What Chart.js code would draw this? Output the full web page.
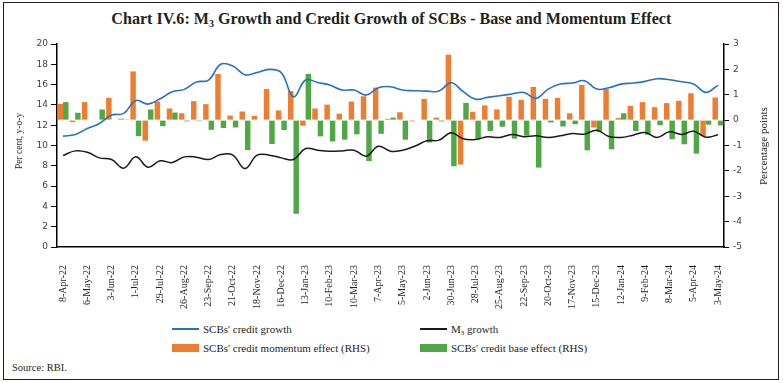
<!DOCTYPE html>
<html>
<head>
<meta charset="utf-8">
<script src="https://cdn.jsdelivr.net/npm/chart.js@4.4.1/dist/chart.umd.min.js"></script>
<style>
html,body{margin:0;padding:0;background:#fff;}
#wrap{position:relative;width:783px;height:383px;overflow:hidden;font-family:"Liberation Serif",serif;color:#231f20;}
#frame{position:absolute;left:3px;top:2px;width:776px;height:378px;border:1px solid #231f20;box-sizing:border-box;}
#title{position:absolute;left:0;top:9px;width:783px;text-align:center;font-size:16px;font-weight:bold;white-space:nowrap;line-height:20px;}
#title span.t{display:inline-block;transform-origin:50% 50%;}
#title sub{font-size:10px;vertical-align:-3px;line-height:0;}
canvas{position:absolute;left:0;top:0;}
.yt{position:absolute;white-space:nowrap;transform:translate(-50%,-50%) rotate(-90deg);line-height:14px;}
.lg{position:absolute;white-space:nowrap;font-size:11px;line-height:14px;}
.lg .sw{position:absolute;left:0;}
.lg .tx{position:absolute;left:31px;top:-7px;}
.lg sub{font-size:7px;vertical-align:-2px;line-height:0;}
#source{position:absolute;left:12px;top:361px;font-size:10.5px;line-height:14px;white-space:nowrap;}
</style>
</head>
<body>
<div id="wrap">
  <div id="frame"></div>
  <div id="title"><span class="t">Chart IV.6: M<sub>3</sub> Growth and Credit Growth of SCBs - Base and Momentum Effect</span></div>
  <canvas id="c" width="783" height="315"></canvas>
  <div class="yt" style="left:19px;top:141px;font-size:9.5px;">Per cent, y-o-y</div>
  <div class="yt" style="left:763px;top:146px;font-size:11px;">Percentage points</div>
  <div id="legend"></div>
  <div id="source">Source: RBI.</div>
</div>
<script>
// Fortnightly reporting dates
const labels = [
  "8-Apr-22","22-Apr-22","6-May-22","20-May-22","3-Jun-22","17-Jun-22","1-Jul-22","15-Jul-22","29-Jul-22","12-Aug-22",
  "26-Aug-22","9-Sep-22","23-Sep-22","7-Oct-22","21-Oct-22","4-Nov-22","18-Nov-22","2-Dec-22","16-Dec-22","30-Dec-22",
  "13-Jan-23","27-Jan-23","10-Feb-23","24-Feb-23","10-Mar-23","24-Mar-23","7-Apr-23","21-Apr-23","5-May-23","19-May-23",
  "2-Jun-23","16-Jun-23","30-Jun-23","14-Jul-23","28-Jul-23","11-Aug-23","25-Aug-23","8-Sep-23","22-Sep-23","6-Oct-23",
  "20-Oct-23","3-Nov-23","17-Nov-23","1-Dec-23","15-Dec-23","29-Dec-23","12-Jan-24","26-Jan-24","9-Feb-24","23-Feb-24",
  "8-Mar-24","22-Mar-24","5-Apr-24","19-Apr-24","3-May-24"
];

// SCBs' credit growth (per cent, y-o-y, LHS)
const creditGrowth = [
  10.92, 11.09, 11.68, 12.17, 13.0, 13.16, 14.44, 14.08, 14.6, 15.3, 15.53, 16.25, 16.45, 18.0,
  17.83, 16.97, 17.2, 17.5, 17.17, 14.8, 16.45, 16.2, 15.95, 15.46, 15.46, 14.97, 15.69, 15.79,
  15.46, 15.4, 15.36, 15.36, 16.18, 15.3, 14.57, 14.74, 14.9, 15.07, 15.23, 14.64, 15.56, 16.05,
  16.15, 16.38, 15.56, 15.69, 16.05, 16.15, 16.32, 16.58, 16.48, 16.28, 16.05, 15.23, 15.92
];

// M3 growth (per cent, y-o-y, LHS)
const m3Growth = [
  9.01, 9.47, 9.34, 8.78, 8.62, 7.76, 8.88, 7.86, 8.49, 8.32, 8.88, 8.85, 8.62, 9.11,
  9.05, 7.73, 9.05, 9.05, 8.78, 8.62, 9.70, 9.54, 9.44, 9.47, 9.54, 8.95, 9.93, 9.44,
  9.54, 9.93, 10.46, 10.53, 11.25, 10.66, 10.59, 10.86, 10.79, 11.09, 10.86, 10.95, 10.79, 10.95,
  11.18, 11.12, 11.51, 10.89, 10.79, 11.02, 11.28, 10.79, 11.35, 11.09, 11.41, 10.82, 11.05
];

// SCBs' credit momentum effect (percentage points, RHS)
const momentumEffect = [
  0.64, -0.08, 0.71, 0.02, 0.88, 0.06, 1.92, -0.81, 0.73, 0.46, 0.27, 0.75, 0.63, 1.82,
  0.18, 0.34, 0.17, 1.23, 0.38, 1.15, -0.22, 0.46, 0.61, 0.25, 0.73, 0.94, 1.28, 0.05,
  0.31, -0.05, 0.84, 0.10, 2.58, -1.75, 0.33, 0.58, 0.42, 0.92, 0.80, 1.31, 0.84, 0.88,
  0.27, 1.39, -0.29, 1.23, 0.08, 0.56, 0.71, 0.51, 0.67, 0.76, 1.06, -0.63, 0.89
];

// SCBs' credit base effect (percentage points, RHS)
const baseEffect = [
  0.71, 0.29, 0.02, 0.42, 0.02, 0.03, -0.63, 0.42, -0.24, 0.30, -0.05, -0.04, -0.38, -0.31,
  -0.29, -1.18, 0.0, -0.94, -0.39, -3.69, 1.82, -0.64, -0.84, -0.77, -0.56, -1.61, -0.54, 0.10,
  -0.77, 0.02, -0.88, -0.05, -1.82, 0.68, -0.76, -0.43, -0.26, -0.73, -0.61, -1.87, -0.09, -0.25,
  -0.16, -1.19, -0.47, -1.15, 0.27, -0.43, -0.58, -0.20, -0.75, -0.95, -1.32, -0.18, -0.21
];

const seriesNames = ["SCBs' credit growth", "M3 growth", "SCBs' credit momentum effect (RHS)", "SCBs' credit base effect (RHS)"];

const W = 783, H = 315;
const plotLeft = 57, plotRight = 724, plotTop = 44, plotBottom = 247;

const tickFont = {family: "DejaVu Sans", size: 9};
const chart = new Chart(document.getElementById('c').getContext('2d'), {
  type: 'bar',
  data: {
    labels: labels,
    datasets: [
      {type: 'line', label: seriesNames[0], data: creditGrowth, yAxisID: 'y', borderColor: '#2372C4', backgroundColor: '#2372C4',
       borderWidth: 1.6, pointRadius: 0, tension: 0.4, fill: false, order: 0},
      {type: 'line', label: seriesNames[1], data: m3Growth, yAxisID: 'y', borderColor: '#1a1a1a', backgroundColor: '#1a1a1a',
       borderWidth: 1.5, pointRadius: 0, tension: 0.4, fill: false, order: 0},
      {type: 'bar', label: seriesNames[2], data: momentumEffect, yAxisID: 'y1', backgroundColor: '#ED7D31',
       categoryPercentage: 0.9, barPercentage: 1.0, order: 1},
      {type: 'bar', label: seriesNames[3], data: baseEffect, yAxisID: 'y1', backgroundColor: '#4FA845',
       categoryPercentage: 0.9, barPercentage: 1.0, order: 1}
    ]
  },
  options: {
    responsive: false,
    animation: false,
    devicePixelRatio: 1,
    layout: {padding: {top: plotTop, left: 0, right: 0, bottom: 0}},
    plugins: {legend: {display: false}, tooltip: {enabled: false}, title: {display: false}},
    scales: {
      x: {
        offset: true,
        grid: {display: false},
        border: {display: true, color: '#000', width: 1.5},
        ticks: {
          autoSkip: false, maxRotation: 90, minRotation: 90, padding: 10,
          font: {family: "Liberation Serif", size: 10}, color: '#231f20',
          callback: function(v, i) { return i % 2 === 0 ? labels[i] : ''; }
        },
        afterFit: function(s) { s.height = H - plotBottom; }
      },
      y: {
        position: 'left', min: 0, max: 20,
        ticks: {stepSize: 2, padding: 3, font: tickFont, color: '#404040'},
        grid: {drawOnChartArea: false, color: '#000', tickLength: 6, tickWidth: 1},
        border: {color: '#000', width: 1.5},
        afterFit: function(s) { s.width = plotLeft; }
      },
      y1: {
        position: 'right', min: -5, max: 3,
        ticks: {stepSize: 1, padding: 4, font: tickFont, color: '#404040'},
        grid: {drawOnChartArea: false, color: '#000', tickLength: 5, tickWidth: 1},
        border: {color: '#000', width: 1.5},
        afterFit: function(s) { s.width = W - plotRight; }
      }
    }
  }
});

// HTML legend built from the chart's datasets (2 x 2 grid)
const legendSlots = [[172, 329], [420, 329], [172, 348], [420, 348]];
const legendEl = document.getElementById('legend');
chart.data.datasets.forEach(function(ds, i) {
  const item = document.createElement('div');
  item.className = 'lg';
  item.style.left = legendSlots[i][0] + 'px';
  item.style.top = legendSlots[i][1] + 'px';
  const sw = document.createElement('div');
  sw.className = 'sw';
  sw.style.width = '27px';
  if (ds.type === 'line') {
    sw.style.height = '2px'; sw.style.top = '-1px'; sw.style.background = ds.borderColor;
  } else {
    sw.style.height = '8px'; sw.style.top = '-4px'; sw.style.background = ds.backgroundColor;
  }
  const tx = document.createElement('div');
  tx.className = 'tx';
  tx.innerHTML = ds.label.replace('M3', 'M<sub>3</sub>');
  item.appendChild(sw); item.appendChild(tx);
  legendEl.appendChild(item);
});

// fit title width to reference span
const t = document.querySelector('#title span.t');
const tw = t.getBoundingClientRect().width;
if (tw > 0) t.style.transform = 'scaleX(' + (560 / tw) + ')';
</script>
</body>
</html>
